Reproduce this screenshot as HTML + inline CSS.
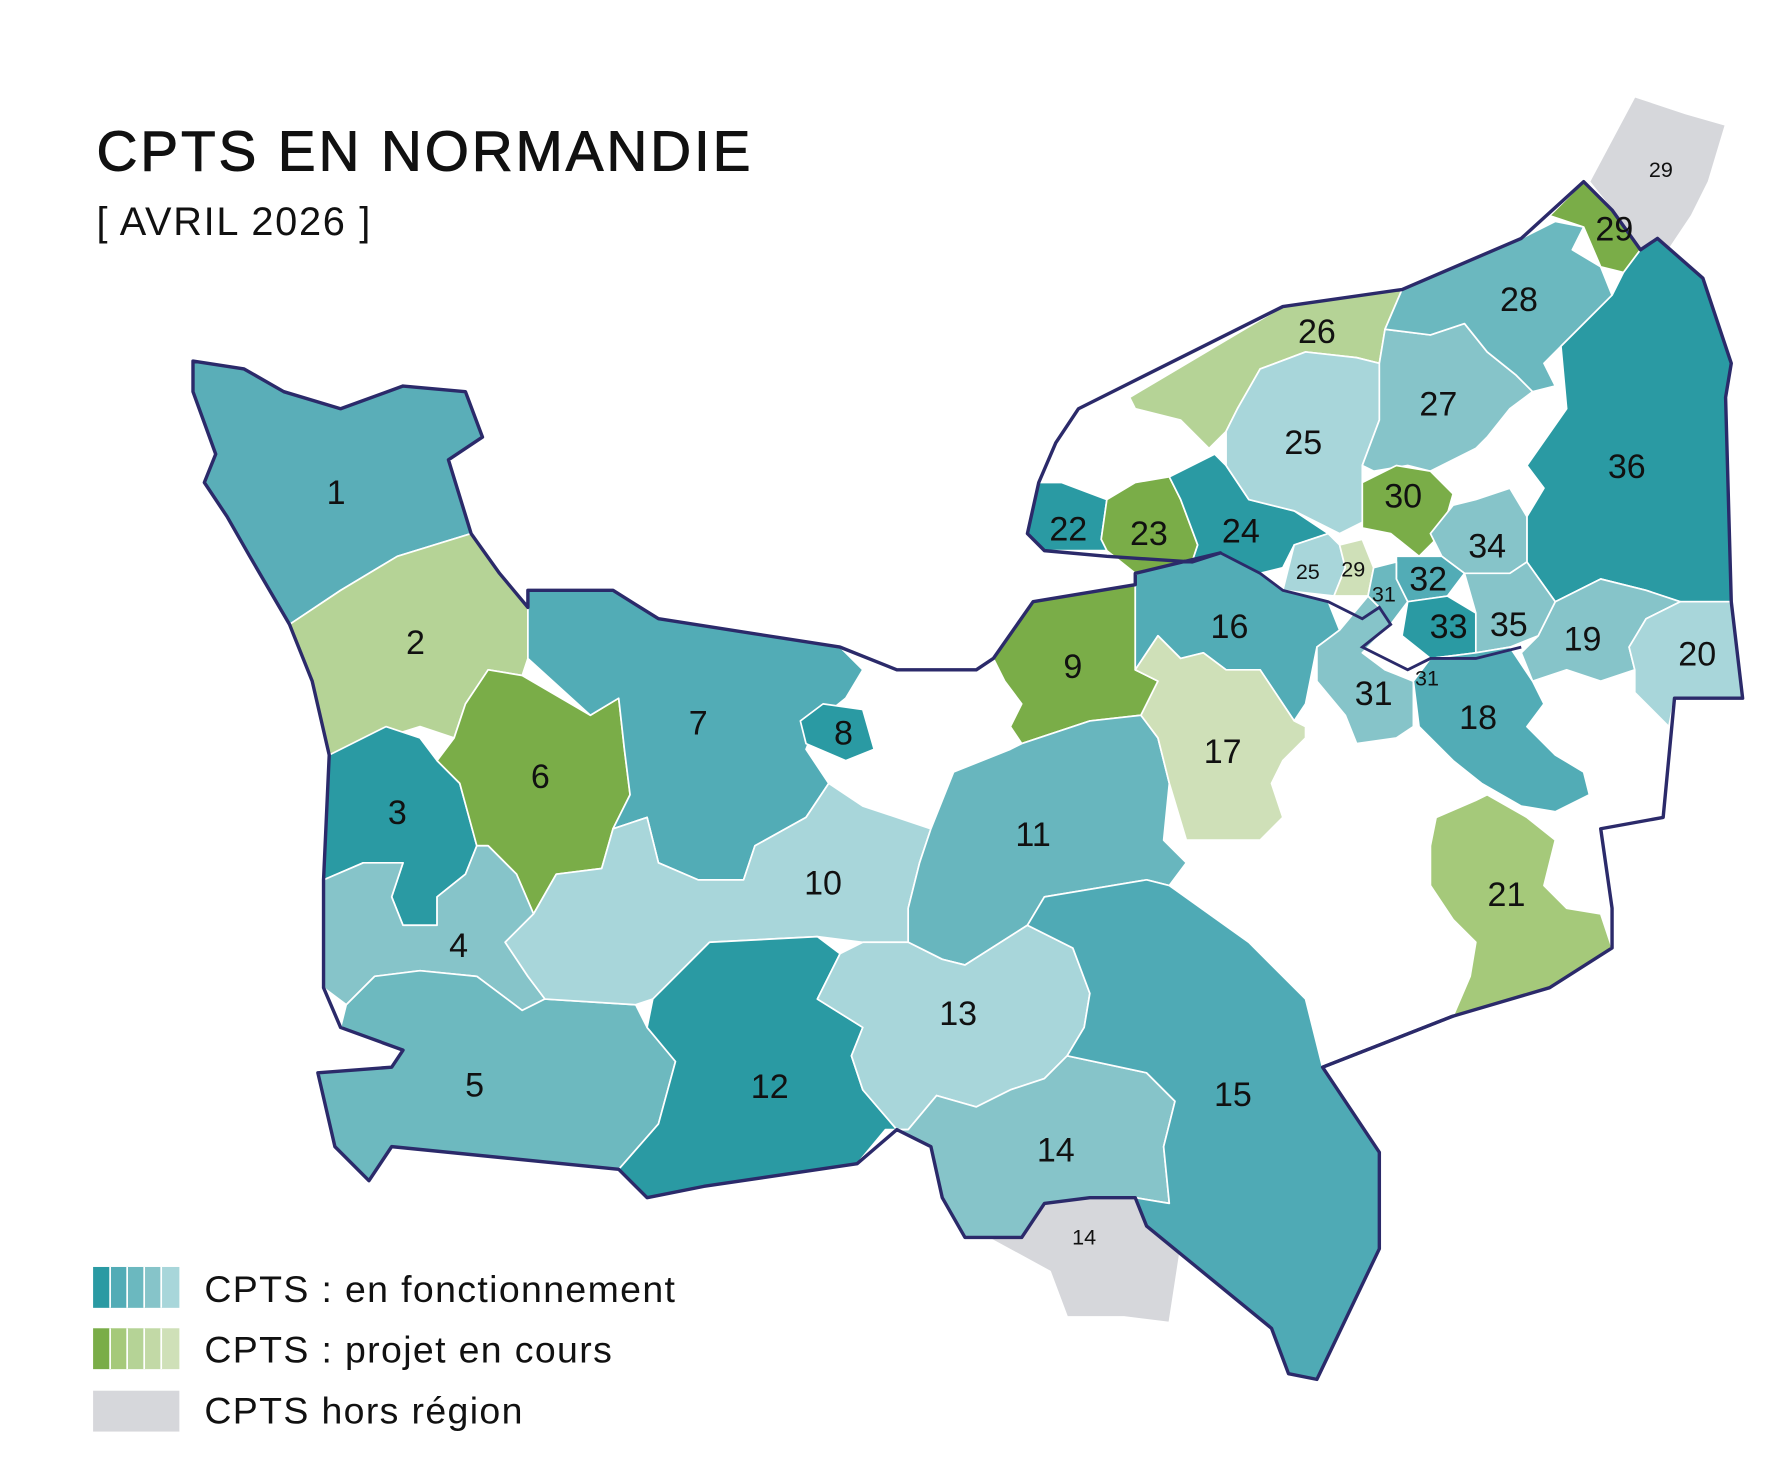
<!DOCTYPE html>
<html><head><meta charset="utf-8"><style>
html,body{margin:0;padding:0;background:#fff;}
svg{display:block}
text{font-family:"Liberation Sans",sans-serif;fill:#111;}
.l{font-size:30px;text-anchor:middle;}
.s{font-size:19px;text-anchor:middle;}
</style></head><body>
<svg width="1771" height="1466" viewBox="0 0 1560 1291.3" xmlns="http://www.w3.org/2000/svg">
<rect width="1560" height="1292" fill="#fff"/>
<text x="85" y="150" style="font-size:50px;letter-spacing:2.5px;stroke:#111;stroke-width:0.8px">CPTS EN NORMANDIE</text>
<text x="85" y="207" style="font-size:35px;letter-spacing:1.5px">[ AVRIL 2026 ]</text>
<g stroke="#fff" stroke-width="1.5" stroke-linejoin="round">
<polygon fill="#d6d7db" points="1400,160 1440,85 1485,100 1520,110 1505,160 1490,190 1470,220 1445,220 1420,185"/>
<polygon fill="#d6d7db" points="870,1090 900,1090 920,1060 960,1055 1000,1055 1010,1080 1040,1100 1030,1165 990,1160 940,1160 925,1120"/>
<polygon fill="#5aaeb8" points="170,318 215,325 250,345 300,360 355,340 410,345 425,385 395,405 415,470 350,490 300,520 255,550 220,490 200,455 180,425 190,400 170,345"/>
<polygon fill="#b5d396" points="255,550 300,520 350,490 415,470 440,505 465,535 465,580 460,595 430,590 410,620 400,650 370,640 290,665 275,600"/>
<polygon fill="#2a9aa3" points="290,665 340,640 370,650 385,670 405,690 420,745 410,770 385,790 385,815 355,815 345,790 355,760 320,760 285,775"/>
<polygon fill="#7aad48" points="400,650 410,620 430,590 460,595 520,630 545,615 550,660 555,700 540,730 530,765 490,770 470,805 455,770 430,745 420,745 405,690 385,670"/>
<polygon fill="#86c4c9" points="285,775 320,760 355,760 345,790 355,815 385,815 385,790 410,770 420,745 430,745 455,770 470,805 445,830 465,860 480,880 460,890 420,860 370,855 330,860 305,885 285,870"/>
<polygon fill="#6db9bf" points="305,885 330,860 370,855 420,860 460,890 480,880 560,885 570,905 595,935 580,990 545,1030 345,1010 325,1040 295,1010 280,945 345,940 355,925 300,905"/>
<polygon fill="#52acb6" points="465,535 465,520 540,520 580,545 740,570 760,590 745,615 720,635 710,660 730,690 710,720 665,745 655,775 615,775 580,760 570,720 540,730 555,700 550,660 545,615 520,630 465,580"/>
<polygon fill="#2a9aa3" points="705,635 725,620 760,625 770,660 745,670 710,655"/>
<polygon fill="#7aad48" points="875,580 910,530 1000,515 1000,590 1020,600 1005,630 960,635 900,655 890,640 900,620 885,600"/>
<polygon fill="#a8d6da" points="445,830 470,805 490,770 530,765 540,730 570,720 580,760 615,775 655,775 665,745 710,720 730,690 760,710 820,730 810,760 800,800 800,830 760,830 720,825 625,830 600,855 575,880 560,885 480,880 465,860"/>
<polygon fill="#68b6be" points="800,800 810,760 820,730 840,680 890,660 900,655 960,635 1005,630 1020,650 1030,690 1025,740 1045,760 1030,780 1010,775 920,790 905,815 850,850 830,845 800,830"/>
<polygon fill="#2a9aa3" points="575,880 600,855 625,830 720,825 740,840 720,880 760,905 750,930 760,960 790,995 780,995 755,1025 620,1045 570,1055 545,1030 580,990 595,935 570,905"/>
<polygon fill="#a8d6da" points="720,880 740,840 760,830 800,830 830,845 850,850 905,815 945,835 960,875 955,905 940,930 920,950 890,960 860,975 825,965 800,995 790,995 760,960 750,930 760,905"/>
<polygon fill="#86c4c9" points="790,995 800,995 825,965 860,975 890,960 920,950 940,930 1010,945 1035,970 1025,1010 1030,1060 1000,1055 960,1055 920,1060 900,1090 850,1090 830,1055 820,1010"/>
<polygon fill="#4faab5" points="905,815 920,790 1010,775 1030,780 1100,830 1150,880 1165,940 1215,1015 1215,1100 1160,1215 1135,1210 1120,1170 1010,1080 1000,1055 1030,1060 1025,1010 1035,970 1010,945 940,930 955,905 960,875 945,835"/>
<polygon fill="#2a9aa3" points="905,470 915,425 935,425 975,440 970,475 975,485 920,485"/>
<polygon fill="#7aad48" points="975,440 1000,425 1030,420 1040,440 1055,480 1050,495 1000,505 975,485 970,475"/>
<polygon fill="#2a9aa3" points="1030,420 1070,400 1080,410 1100,440 1140,450 1170,470 1140,480 1130,500 1110,505 1075,487 1050,495 1055,480 1040,440"/>
<polygon fill="#b5d396" points="995,350 1130,270 1235,255 1220,290 1215,320 1195,315 1150,310 1110,325 1090,360 1080,380 1065,395 1040,370 1000,360"/>
<polygon fill="#a8d6da" points="1080,380 1090,360 1110,325 1150,310 1195,315 1215,320 1215,370 1200,410 1200,460 1180,470 1140,450 1100,440 1080,410"/>
<polygon fill="#86c4c9" points="1215,320 1220,290 1260,295 1290,285 1310,310 1335,330 1350,345 1330,360 1310,385 1300,395 1260,415 1240,410 1210,415 1200,410 1215,370"/>
<polygon fill="#6bb8bf" points="1235,255 1340,210 1370,195 1395,200 1385,220 1410,235 1420,260 1400,280 1375,305 1360,320 1370,340 1350,345 1335,330 1310,310 1290,285 1260,295 1220,290"/>
<polygon fill="#7aad48" points="1365,190 1395,160 1420,185 1445,220 1430,240 1410,235 1395,200"/>
<polygon fill="#2a9aa3" points="1430,240 1445,220 1460,210 1500,245 1525,320 1520,350 1525,530 1480,530 1450,520 1410,510 1370,530 1345,495 1345,455 1360,430 1345,410 1380,360 1375,305 1400,280 1420,260"/>
<polygon fill="#7aad48" points="1200,425 1230,410 1260,415 1280,435 1270,470 1250,490 1225,470 1200,465"/>
<polygon fill="#86c4c9" points="1260,470 1280,445 1300,440 1330,430 1345,455 1345,495 1330,505 1290,505 1270,490"/>
<polygon fill="#52acb6" points="1230,490 1250,490 1270,490 1290,505 1275,525 1240,530 1230,510"/>
<polygon fill="#2a9aa3" points="1240,530 1275,525 1300,540 1300,575 1260,580 1235,560"/>
<polygon fill="#86c4c9" points="1300,540 1290,505 1330,505 1345,495 1370,530 1355,560 1330,570 1300,575"/>
<polygon fill="#86c4c9" points="1355,560 1370,530 1410,510 1450,520 1480,530 1450,545 1435,570 1440,590 1410,600 1380,590 1350,600 1340,575"/>
<polygon fill="#a8d6da" points="1480,530 1525,530 1535,615 1475,615 1470,640 1440,610 1440,590 1435,570 1450,545"/>
<polygon fill="#52acb6" points="1000,505 1075,487 1110,505 1130,520 1170,530 1180,555 1160,570 1150,620 1140,635 1110,590 1080,590 1060,575 1040,580 1020,560 1000,590"/>
<polygon fill="#cfe0b8" points="1020,560 1040,580 1060,575 1080,590 1110,590 1140,635 1150,640 1150,650 1130,670 1120,690 1130,720 1110,740 1045,740 1030,690 1020,650 1005,630 1020,600 1000,590"/>
<polygon fill="#a8d6da" points="1130,520 1140,480 1170,470 1180,480 1185,500 1175,525"/>
<polygon fill="#cfe0b8" points="1175,525 1185,500 1180,480 1200,475 1210,500 1205,525"/>
<polygon fill="#86c4c9" points="1180,555 1205,525 1215,535 1225,550 1200,575 1220,590 1245,600 1245,640 1230,650 1195,655 1185,630 1160,600 1160,570"/>
<polygon fill="#6bb8bf" points="1205,525 1210,500 1230,495 1230,510 1240,530 1225,550 1215,535"/>
<polygon fill="#52acb6" points="1245,600 1260,580 1300,575 1330,570 1350,600 1360,620 1345,640 1370,665 1395,680 1400,700 1370,715 1340,710 1305,690 1280,670 1250,640"/>
<polygon fill="#a5c97a" points="1265,720 1300,705 1310,700 1345,720 1370,740 1360,780 1380,800 1410,805 1420,835 1365,870 1280,895 1295,860 1300,830 1280,810 1260,780 1260,745"/>
</g>
<polygon fill="none" stroke="#2b2a6a" stroke-width="3" stroke-linejoin="round" points="1165,940 1215,1015 1215,1100 1160,1215 1135,1210 1120,1170 1010,1080 1000,1055 960,1055 920,1060 900,1090 850,1090 830,1055 820,1010 790,995 755,1025 620,1045 570,1055 545,1030 345,1010 325,1040 295,1010 280,945 345,940 355,925 300,905 285,870 285,775 290,665 275,600 255,550 220,490 200,455 180,425 190,400 170,345 170,318 215,325 250,345 300,360 355,340 410,345 425,385 395,405 415,470 440,505 465,535 465,520 540,520 580,545 740,570 790,590 860,590 875,580 910,530 1000,515 1000,505 1075,487 1050,495 975,490 920,485 905,470 915,425 930,390 950,360 1130,270 1235,255 1340,210 1395,160 1420,185 1445,220 1460,210 1500,245 1525,320 1520,350 1525,530 1535,615 1475,615 1465,720 1410,730 1420,800 1420,835 1365,870 1280,895"/>
<polyline fill="none" stroke="#2b2a6a" stroke-width="3" points="1280,895 1165,940"/>
<polyline fill="none" stroke="#2b2a6a" stroke-width="2.5" points="1075,487 1110,505 1130,520 1170,530 1200,545 1215,535 1225,550 1200,570 1240,590 1260,580 1300,580 1340,570"/>
<g>
<text class="l" x="296" y="444">1</text><text class="l" x="366" y="576">2</text><text class="l" x="350" y="726">3</text>
<text class="l" x="404" y="843">4</text><text class="l" x="418" y="966">5</text><text class="l" x="476" y="694">6</text>
<text class="l" x="615" y="647">7</text><text class="l" x="743" y="656">8</text><text class="l" x="945" y="597">9</text>
<text class="l" x="725" y="788">10</text><text class="l" x="910" y="745">11</text><text class="l" x="678" y="967">12</text>
<text class="l" x="844" y="903">13</text><text class="l" x="930" y="1023">14</text><text class="l" x="1086" y="974">15</text>
<text class="l" x="1083" y="562">16</text><text class="l" x="1077" y="672">17</text><text class="l" x="1302" y="642">18</text>
<text class="l" x="1394" y="573">19</text><text class="l" x="1495" y="586">20</text><text class="l" x="1327" y="798">21</text>
<text class="l" x="941" y="476">22</text><text class="l" x="1012" y="480">23</text><text class="l" x="1093" y="478">24</text>
<text class="l" x="1148" y="400">25</text><text class="l" x="1160" y="302">26</text><text class="l" x="1267" y="366">27</text>
<text class="l" x="1338" y="274">28</text><text class="l" x="1422" y="212">29</text><text class="l" x="1236" y="447">30</text>
<text class="l" x="1210" y="621">31</text><text class="l" x="1258" y="520">32</text><text class="l" x="1276" y="562">33</text>
<text class="l" x="1310" y="491">34</text><text class="l" x="1329" y="560">35</text><text class="l" x="1433" y="421">36</text>
<text class="s" x="1152" y="510">25</text><text class="s" x="1192" y="508">29</text><text class="s" x="1219" y="530">31</text>
<text class="s" x="1257" y="604">31</text><text class="s" x="1463" y="156">29</text><text class="s" x="955" y="1096">14</text>
</g>
<g stroke="none">
<rect x="82" y="1116" width="16" height="36" fill="#2a9aa3"/><rect x="97" y="1116" width="16" height="36" fill="#52acb6"/><rect x="112" y="1116" width="16" height="36" fill="#6bb8bf"/><rect x="127" y="1116" width="16" height="36" fill="#86c4c9"/><rect x="142" y="1116" width="16" height="36" fill="#a8d6da"/>
<rect x="82" y="1170" width="16" height="36" fill="#7aad48"/><rect x="97" y="1170" width="16" height="36" fill="#a5c97a"/><rect x="112" y="1170" width="16" height="36" fill="#b5d396"/><rect x="127" y="1170" width="16" height="36" fill="#c2d9a6"/><rect x="142" y="1170" width="16" height="36" fill="#cfe0b8"/>
<rect x="82" y="1225" width="76" height="36" fill="#d6d7db"/>
</g>
<g stroke="#fff" stroke-width="1.5"><line x1="97" y1="1116" x2="97" y2="1152"/><line x1="112" y1="1116" x2="112" y2="1152"/><line x1="127" y1="1116" x2="127" y2="1152"/><line x1="142" y1="1116" x2="142" y2="1152"/><line x1="97" y1="1170" x2="97" y2="1206"/><line x1="112" y1="1170" x2="112" y2="1206"/><line x1="127" y1="1170" x2="127" y2="1206"/><line x1="142" y1="1170" x2="142" y2="1206"/></g>
<text x="180" y="1147" style="font-size:33px;letter-spacing:1.2px">CPTS : en fonctionnement</text>
<text x="180" y="1200" style="font-size:33px;letter-spacing:1.2px">CPTS : projet en cours</text>
<text x="180" y="1254" style="font-size:33px;letter-spacing:1.2px">CPTS hors région</text>
</svg>
</body></html>
